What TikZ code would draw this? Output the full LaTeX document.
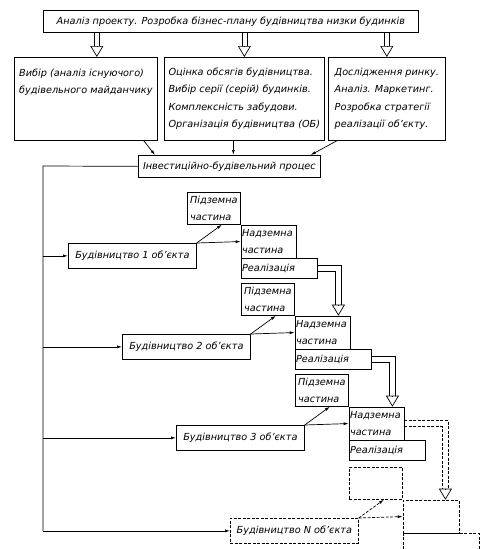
\documentclass[tikz,border=0pt]{standalone}
\usepackage{fontspec}
\setmainfont{DejaVu Sans}
\usetikzlibrary{arrows.meta}

\begin{document}
\begin{tikzpicture}[x=1pt, y=-1pt, line width=.7pt,
  every node/.style={font=\itshape\fontsize{9.7}{17.3}\selectfont},
  blk/.style={draw, anchor=north west, inner sep=0pt, align=left},
  arr/.style={-{Latex[length=5pt,width=3pt]}},
  hollowtip/.style={-{Triangle[open,length=11pt,width=13pt]}},
  dsh/.style={dash pattern=on 3pt off 1.5pt}
  ]
  \useasboundingbox (0,0) rectangle (481,549);
  \node[blk, minimum width=375pt, minimum height=22pt, align=center] (plan) at (43,10)
    {Аналіз проекту. Розробка бізнес-плану будівництва низки будинків};
  \node[blk, minimum height=83pt, minimum width=143pt] (site) at (14,57)
    {Вибір (аналіз існуючого)\\будівельного майданчику\\\mbox{}\\\mbox{}};
  \node[blk, minimum height=83pt, minimum width=160pt] (scope) at (164,57)
    {Оцінка обсягів будівництва.\\Вибір серії (серій) будинків.\\Комплексність забудови.\\Організація будівництва (ОБ)};
  \node[blk, minimum height=83pt, minimum width=117pt] (market) at (328,57)
    {Дослідження ринку.\\Аналіз. Маркетинг.\\Розробка стратегії\\реалізації об’єкту.};
  \foreach \n/\s in {site/11pt, scope/0pt, market/0pt} {
    \coordinate (tip) at ([xshift=\s]\n.north);
    \coordinate (src) at (tip |- plan.south);
    \draw ([xshift=-2.5pt]src) -- ([xshift=-2.5pt,yshift=11pt]tip);
    \draw ([xshift=2.5pt]src) -- ([xshift=2.5pt,yshift=11pt]tip);
    \draw[hollowtip] ([yshift=11pt]tip) -- (tip);
  }
  \node[blk, minimum width=182pt, minimum height=22pt, align=center] (proc) at (138,155)
    {Інвестиційно-будівельний процес};
  \draw[arr] ([xshift=-14pt]site.south east) -- ([xshift=17pt]proc.north west);
  \draw[arr] ([xshift=-11pt]scope.south) -- ([xshift=-11pt]scope.south |- proc.north);
  \draw[arr] ([xshift=9pt]market.south west) -- ([xshift=-10pt]proc.north east);
  \coordinate (trunk) at (43,166);
  \foreach \i [evaluate=\i as \dx using 54*(\i-1), evaluate=\i as \dy using 91*(\i-1)] in {1,2,3} {
    \node[blk, minimum width=128pt, minimum height=25pt, align=center] (bud\i) at (68+\dx,243+\dy)
      {Будівництво \i\ об’єкта};
    \node[blk, minimum width=53pt, minimum height=32pt] (pid\i) at (187+\dx,192+\dy) {Підземна\\частина};
    \node[blk, text width=53pt, inner xsep=1pt, minimum height=33pt] (nad\i) at (pid\i.south east)
      {Надземна\\частина};
    \node[blk, text width=74pt, inner xsep=1pt, minimum height=20pt] (real\i) at (nad\i.south west)
      {Реалізація};
    \draw[arr] (trunk |- bud\i.west) -- (bud\i.west);
    \draw[arr] (bud\i.north east) -- ([xshift=8pt]pid\i.south);
    \draw[arr] (bud\i.north east) -- (nad\i.west);
  }
  \node[blk, dsh, minimum width=128pt, minimum height=25pt, align=center] (budN) at (230,518)
    {Будівництво N об’єкта};
  \node[blk, dsh, minimum width=53pt, minimum height=32pt] (pidN) at (349,467) {};
  \node[blk, dsh, minimum width=56pt, minimum height=33pt] (nadN) at (pidN.south east) {};
  \node[blk, dsh, minimum width=76pt, minimum height=20pt] (realN) at (nadN.south west) {};
  \draw (proc.west) -- (trunk) -- (trunk |- budN.west);
  \draw[arr] (trunk |- budN.west) -- (budN.west);
  \draw[arr, dsh] (budN.north east) -- ([xshift=8pt]pidN.south);
  \draw[arr, dsh] (budN.north east) -- (nadN.west);
  \foreach \a/\b/\s/\st in {real1/nad2/12pt/solid, real2/nad3/12pt/solid, nad3/nadN/14pt/dsh} {
    \coordinate (tip) at ([xshift=-\s]\b.north east);
    \draw[\st] ([yshift=3pt]\a.east) -| ([xshift=3pt,yshift=11pt]tip);
    \draw[\st] ([yshift=-3pt]\a.east) -| ([xshift=-3pt,yshift=11pt]tip);
    \draw[hollowtip] ([yshift=11pt]tip) -- (tip);
  }
\end{tikzpicture}
\end{document}
